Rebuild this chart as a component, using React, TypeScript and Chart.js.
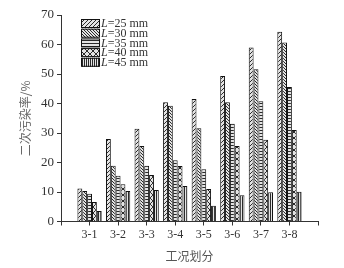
import React, { useEffect, useRef } from 'react';
import { Chart, registerables } from 'chart.js';
Chart.register(...registerables);

const categories = ['3-1', '3-2', '3-3', '3-4', '3-5', '3-6', '3-7', '3-8'];
const lengths = ['25', '30', '35', '40', '45'];
const L25 = [11.2, 28.0, 31.4, 40.4, 41.5, 49.3, 59.0, 64.3];
const L30 = [10.3, 18.9, 25.6, 39.2, 31.6, 40.4, 51.6, 60.7];
const L35 = [9.4, 15.5, 18.9, 20.8, 17.7, 33.1, 40.8, 45.6];
const L40 = [6.6, 12.6, 15.8, 18.8, 11.0, 25.6, 27.7, 31.0];
const L45 = [3.6, 10.3, 10.7, 12.0, 5.3, 8.9, 9.9, 10.1];
const yTicks = [0, 10, 20, 30, 40, 50, 60, 70];

const INK = '#333333';
const SERIF = '"Liberation Serif", "DejaVu Serif", serif';
const CJK = '"Noto Sans CJK SC", sans-serif';

function makePattern(kind: string): CanvasPattern | string {
  const c = document.createElement('canvas');
  const s = kind === 'cross' ? 6 : kind === 'bwd' ? 3 : kind === 'vert' ? 2 : kind === 'horiz' ? 3 : 4;
  c.width = s;
  c.height = s;
  const ctx = c.getContext('2d');
  if (!ctx) return '#999';
  ctx.fillStyle = '#e4e4e4';
  ctx.fillRect(0, 0, s, s);
  ctx.fillStyle = '#2a2a2a';
  for (let i = 0; i < s; i++) {
    if (kind === 'fwd') ctx.fillRect(i, s - 1 - i, 1, 1);
    if (kind === 'bwd') ctx.fillRect(i, i, 1, 1);
    if (kind === 'cross') {
      ctx.fillRect(i, i, 1, 1);
      ctx.fillRect(i, s - 1 - i, 1, 1);
    }
  }
  if (kind === 'horiz') ctx.fillRect(0, 1, s, 1);
  if (kind === 'vert') ctx.fillRect(0, 0, 1, s);
  return ctx.createPattern(c, 'repeat') || '#999';
}

const legendPlugin = {
  id: 'customLegend',
  afterDraw(chart: any) {
    const ctx = chart.ctx;
    const x0 = 81;
    const y0 = 19;
    const rowH = 9.7;
    const sw = 19;
    const sh = 9;
    ctx.save();
    chart.data.datasets.forEach((ds: any, i: number) => {
      const y = y0 + i * rowH;
      ctx.fillStyle = ds.backgroundColor;
      ctx.fillRect(x0, y, sw, sh);
      ctx.strokeStyle = '#111';
      ctx.lineWidth = 1;
      ctx.strokeRect(x0 + 0.5, y + 0.5, sw - 1, sh - 1);
      const label: string = ds.label;
      ctx.fillStyle = INK;
      ctx.textBaseline = 'middle';
      ctx.textAlign = 'left';
      ctx.font = `italic 12px ${SERIF}`;
      const first = label.charAt(0);
      ctx.fillText(first, x0 + sw + 1, y + sh / 2 + 0.5);
      const w = ctx.measureText(first).width;
      ctx.font = `12px ${SERIF}`;
      ctx.fillText(label.slice(1), x0 + sw + 1 + w, y + sh / 2 + 0.5);
    });
    ctx.restore();
  },
};

export default function App() {
  const ref = useRef<HTMLCanvasElement>(null);
  useEffect(() => {
    if (!ref.current) return;
    const patterns = ['fwd', 'bwd', 'horiz', 'cross', 'vert'];
    const series = [L25, L30, L35, L40, L45];
    const labels = ['', ...categories, ''];
    const chart = new Chart(ref.current, {
      type: 'bar',
      data: {
        labels,
        datasets: series.map((vals, i) => ({
          label: `L=${lengths[i]} mm`,
          data: [null, ...vals, null] as any,
          backgroundColor: makePattern(patterns[i]) as any,
          borderColor: '#111',
          borderWidth: 1,
          categoryPercentage: 0.85,
          barPercentage: 1,
        })),
      },
      options: {
        animation: false,
        responsive: false,
        devicePixelRatio: 1,
        layout: { padding: { left: 0, right: 26, top: 15, bottom: 0 } },
        plugins: {
          legend: { display: false },
          tooltip: { enabled: false },
        },
        scales: {
          x: {
            offset: false,
            grid: { drawOnChartArea: false, offset: false, tickLength: 4, color: INK },
            border: { color: INK, width: 1 },
            ticks: {
              color: INK,
              autoSkip: false,
              maxRotation: 0,
              padding: 2,
              font: { family: SERIF, size: 12 },
            },
            title: {
              display: true,
              text: '工况划分',
              color: '#555',
              font: { family: CJK, size: 12 },
              padding: { top: 4, bottom: 4 },
            },
            afterFit: (s: any) => {
              s.height = 46.5;
            },
          },
          y: {
            min: 0,
            max: 70,
            grid: {
              drawOnChartArea: false,
              tickLength: 4,
              color: (c: any) => (c.tick && yTicks.includes(Number(c.tick.value)) ? INK : '#777'),
            },
            border: { color: INK, width: 1 },
            ticks: {
              stepSize: 5,
              color: INK,
              padding: 3,
              font: { family: SERIF, size: 13 },
              callback: (v: any) => (yTicks.includes(Number(v)) ? String(v) : ''),
            },
            title: {
              display: true,
              text: '二次污染率/%',
              color: '#666',
              font: { family: CJK, size: 12 },
              padding: { top: 18, bottom: 0 },
            },
            afterFit: (s: any) => {
              s.width = 61;
            },
          },
        },
      },
      plugins: [legendPlugin],
    });
    return () => chart.destroy();
  }, []);
  return (
    <canvas
      ref={ref}
      width={344}
      height={268}
      style={{ position: 'fixed', left: 0, top: 0, width: 344, height: 268, display: 'block', background: '#fff' }}
    />
  );
}
